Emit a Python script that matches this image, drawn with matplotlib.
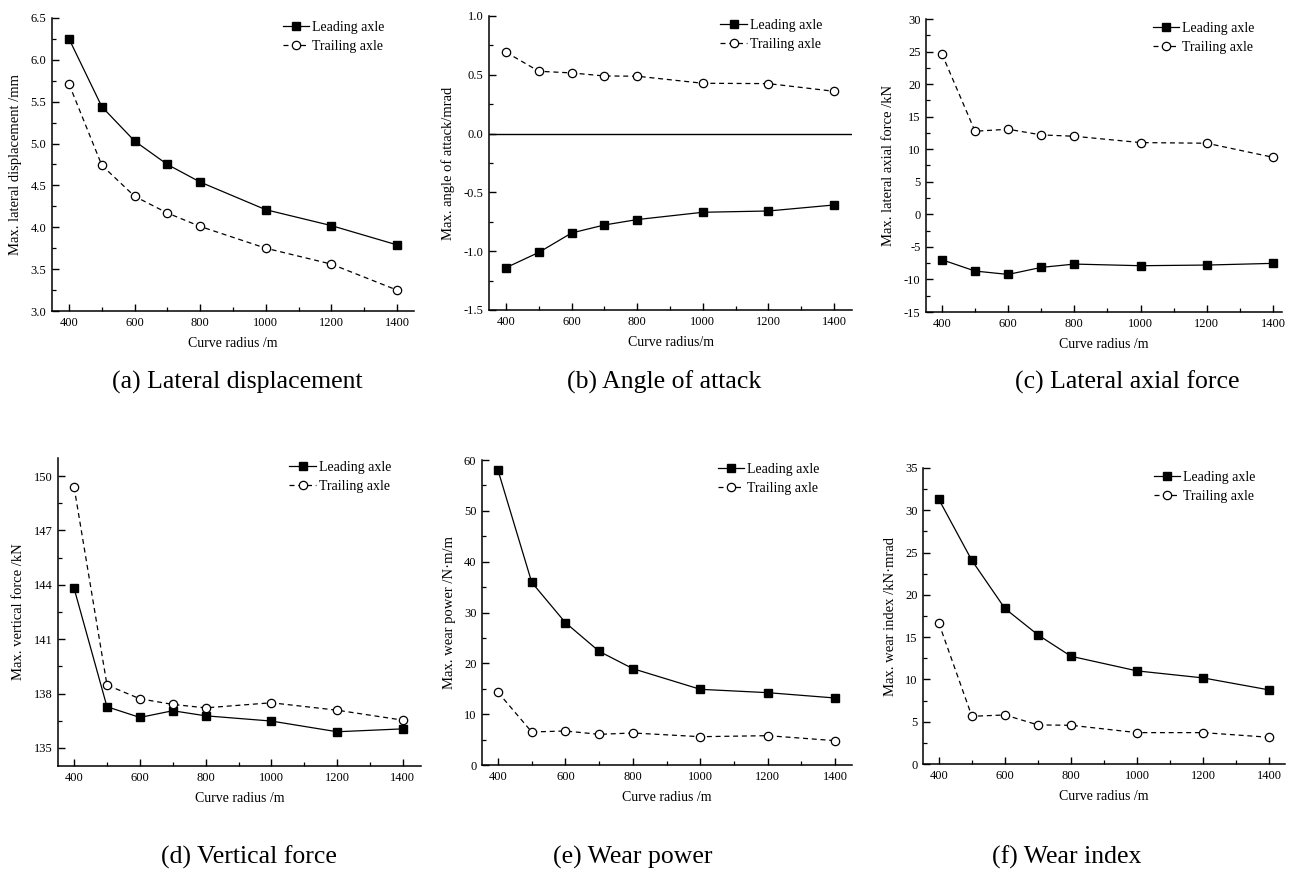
import matplotlib
matplotlib.use("Agg")
import matplotlib.pyplot as plt
from matplotlib.ticker import MultipleLocator, FormatStrFormatter

plt.rcParams["font.family"] = ["Liberation Serif", "DejaVu Serif"]
plt.rcParams["axes.unicode_minus"] = False

radius = [400, 500, 600, 700, 800, 1000, 1200, 1400]

disp_lead = [6.25, 5.44, 5.03, 4.75, 4.54, 4.21, 4.02, 3.79]
disp_trail = [5.71, 4.74, 4.37, 4.17, 4.01, 3.75, 3.56, 3.25]

aoa_lead = [-1.14, -1.01, -0.845, -0.777, -0.731, -0.669, -0.658, -0.607]
aoa_trail = [0.692, 0.53, 0.516, 0.49, 0.488, 0.428, 0.425, 0.36]

lat_lead = [-6.97, -8.71, -9.23, -8.15, -7.64, -7.89, -7.79, -7.53]
lat_trail = [24.65, 12.76, 13.07, 12.2, 11.99, 11.02, 10.92, 8.76]

vert_lead = [143.8, 137.27, 136.68, 137.05, 136.77, 136.48, 135.89, 136.05]
vert_trail = [149.39, 138.47, 137.71, 137.4, 137.21, 137.49, 137.08, 136.53]

power_lead = [57.97, 35.93, 28.0, 22.36, 18.95, 14.89, 14.23, 13.18]
power_trail = [14.3, 6.5, 6.69, 6.03, 6.3, 5.57, 5.77, 4.79]

index_lead = [31.29, 24.07, 18.39, 15.27, 12.74, 11.01, 10.18, 8.76]
index_trail = [16.65, 5.64, 5.8, 4.62, 4.58, 3.71, 3.71, 3.16]

W, H = 1292, 872
fig = plt.figure(figsize=(W / 100, H / 100), dpi=100)


def make_axes(left, right, top, bottom):
    return fig.add_axes([left / W, 1 - bottom / H, (right - left) / W, (bottom - top) / H])


panels = [
    # pixel box, xlim, ylim, major, minor, fmt, ylabel, xlabel, lead, trail, caption, caption pos
    ((52, 414, 18, 311), (348, 1452), (3.0, 6.5), 0.5, 0.25, "%.1f",
     "Max. lateral displacement /mm", "Curve radius /m", disp_lead, disp_trail,
     "(a) Lateral displacement", (237, 382)),
    ((489, 852, 16, 310), (348, 1455), (-1.5, 1.0), 0.5, 0.25, "%.1f",
     "Max. angle of attack/mrad", "Curve radius/m", aoa_lead, aoa_trail,
     "(b) Angle of attack", (664, 382)),
    ((926, 1282, 19, 312), (352, 1427), (-15, 30), 5, 2.5, "%d",
     "Max. lateral axial force /kN", "Curve radius /m", lat_lead, lat_trail,
     "(c) Lateral axial force", (1127, 382)),
    ((58, 421, 458, 766), (351, 1455), (134, 151), 3, 1.5, "%d",
     "Max. vertical force /kN", "Curve radius /m", vert_lead, vert_trail,
     "(d) Vertical force", (249, 857)),
    ((482, 852, 460, 765), (352.5, 1450), (0, 60), 10, 5, "%d",
     "Max. wear power /N\u00b7m/m", "Curve radius /m", power_lead, power_trail,
     "(e) Wear power", (633, 857)),
    ((923, 1285, 468, 764), (352, 1448), (0, 35), 5, 2.5, "%d",
     "Max. wear index /kN\u00b7mrad", "Curve radius /m", index_lead, index_trail,
     "(f) Wear index", (1067, 857)),
]

for box, xlim, ylim, major, minor, fmt, ylabel, xlabel, lead, trail, caption, cpos in panels:
    ax = make_axes(*box)
    ax.plot(radius, lead, color="black", lw=0.9, marker="s", ms=5.8,
            mfc="black", mec="black", label="Leading axle")
    ax.plot(radius, trail, color="black", lw=0.9, ls=(0, (4, 3)), marker="o", ms=6,
            mfc="white", mec="black", mew=0.9, label="Trailing axle")
    if ylabel.startswith("Max. angle"):
        ax.axhline(0, color="black", lw=1.0)
    ax.set_xlim(*xlim)
    ax.set_ylim(*ylim)
    ax.xaxis.set_major_locator(MultipleLocator(200))
    ax.xaxis.set_minor_locator(MultipleLocator(100))
    ax.yaxis.set_major_locator(MultipleLocator(major))
    ax.yaxis.set_minor_locator(MultipleLocator(minor))
    ax.yaxis.set_major_formatter(FormatStrFormatter(fmt))
    for s in ["top", "right"]:
        ax.spines[s].set_visible(False)
    for s in ["left", "bottom"]:
        ax.spines[s].set_linewidth(1.1)
    ax.tick_params(which="major", direction="in", length=5, width=1.0, labelsize=9, pad=4)
    ax.tick_params(which="minor", direction="in", length=3, width=0.9)
    ax.set_xlabel(xlabel, fontsize=10, labelpad=6)
    ax.set_ylabel(ylabel, fontsize=10.5, labelpad=6)
    ax.legend(loc="upper left", bbox_to_anchor=(0.63, 1.0), frameon=False, fontsize=10,
              handlelength=1.9, handletextpad=0.2, borderpad=0, labelspacing=0.45,
              borderaxespad=0.2)
    fig.text(cpos[0] / W, 1 - cpos[1] / H, caption, ha="center", va="center", fontsize=18.5)

fig.savefig("out.png", dpi=100)
